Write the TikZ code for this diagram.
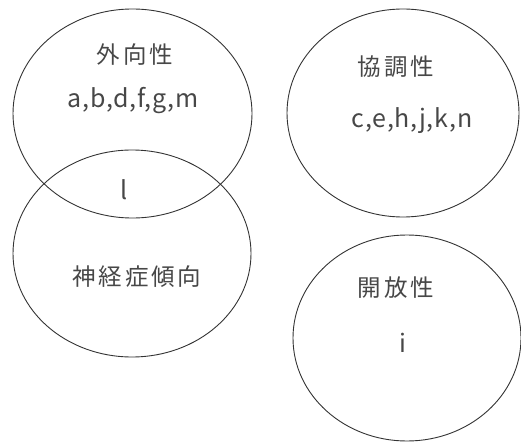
\documentclass[tikz,border=0pt]{standalone}
\usepackage{fontspec}
\setmainfont{Noto Sans CJK JP}
\newfontfamily\lblfont[LetterSpace=12]{Noto Sans CJK JP}
\newfontfamily\itmfont[LetterSpace=3]{Noto Sans CJK JP}
\usetikzlibrary{shapes.geometric}
\begin{document}
\begin{tikzpicture}[x=1pt,y=-1pt,
  set/.style={draw=black!80,line width=0.9pt,ellipse,inner sep=0pt},
  lbl/.style={text=black!72,font=\lblfont\fontsize{23.5}{26}\selectfont,inner sep=0pt},
  itm/.style={text=black!72,font=\itmfont\fontsize{25}{28}\selectfont,inner sep=0pt}]
\useasboundingbox (0,0) rectangle (521,443);
\node[set,minimum width=239pt,minimum height=209pt] (ext) at (132.5,113.5) {};
\node[set,minimum width=238pt,minimum height=207pt] (neu) at (132,253.5) {};
\node[set,minimum width=232pt,minimum height=208pt] (agr) at (403,113) {};
\node[set,minimum width=228pt,minimum height=206pt] (ope) at (407,338) {};
\node[lbl] (t1) at (135,55) {外向性};
\node[itm] (i1) at (133,101) {a,b,d,f,g,m};
\node[itm] (i0) at (124,190) {l};
\node[lbl] (t2) at (137,277) {神経症傾向};
\node[lbl] (t3) at (396,67) {協調性};
\node[itm] (i3) at (412,121) {c,e,h,j,k,n};
\node[lbl] (t4) at (396,288) {開放性};
\node[itm] (i4) at (403,343) {i};
\end{tikzpicture}
\end{document}
